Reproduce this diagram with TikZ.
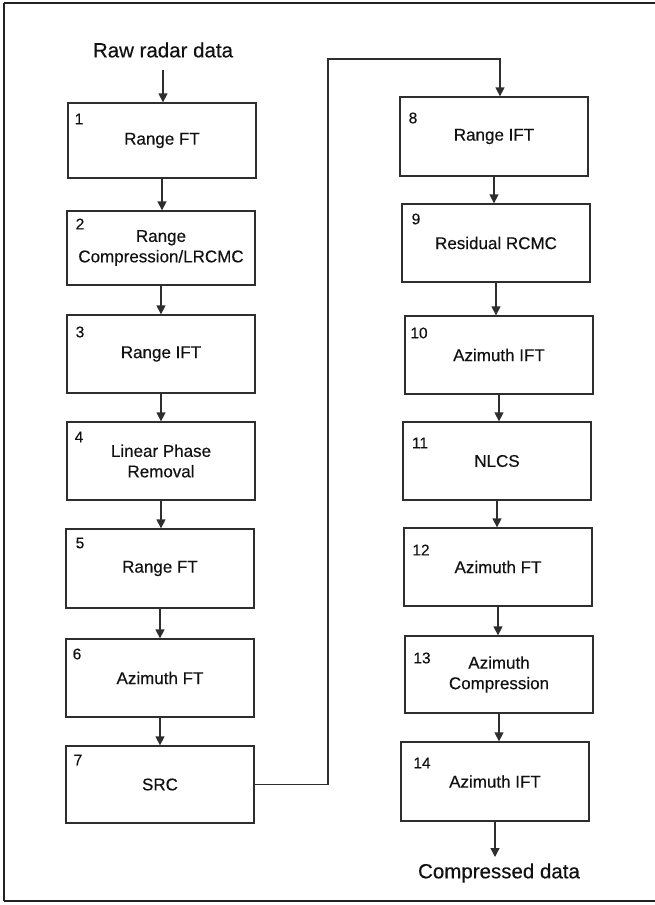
\documentclass[tikz,border=0pt]{standalone}
\usepackage{fontspec}
\setmainfont{Liberation Sans}[FakeBold=0.35]
\usetikzlibrary{arrows.meta,calc}
\definecolor{linegray}{HTML}{2E2E2E}
\definecolor{textblack}{HTML}{111111}
\definecolor{framecol}{HTML}{222222}

\begin{document}
\begin{tikzpicture}[x=1pt,y=-1pt,
  stepbox/.style={draw=linegray, line width=1.3pt, minimum width=188pt,
    inner sep=0pt, align=center, text=textblack,
    font=\fontsize{17}{20.5}\selectfont},
  num/.style={font=\fontsize{15.5}{18}\selectfont, text=textblack, inner sep=0pt},
  endtext/.style={font=\fontsize{20.5}{24}\selectfont, text=textblack, inner sep=0pt},
  flow/.style={draw=linegray, line width=1.3pt, -{Triangle[length=9pt,width=9pt]}}
]
\useasboundingbox (0,0) rectangle (655,905);

% frame: top, left and bottom rules
\draw[framecol, line width=2.6pt] (655,3) -- (4,3);
\draw[framecol, line width=1.1pt] (4,3) -- (4,901);
\draw[framecol, line width=2.6pt] (4,901) -- (655,901);

% left column
\node[stepbox, minimum height=75pt] (b1) at (162,140.5) {Range FT};
\node[stepbox, minimum height=74pt] (b2) at (161,248) {Range\\Compression/LRCMC};
\node[stepbox, minimum height=78pt] (b3) at (161,354) {Range IFT};
\node[stepbox, minimum height=78pt] (b4) at (161,461) {Linear Phase\\Removal};
\node[stepbox, minimum height=79pt] (b5) at (160,568.5) {Range FT};
\node[stepbox, minimum height=78pt] (b6) at (160,678) {Azimuth FT};
\node[stepbox, minimum height=77pt] (b7) at (160,784.5) {SRC};

% right column
\node[stepbox, minimum height=79pt] (b8) at (494,136.5) {Range IFT};
\node[stepbox, minimum height=78pt] (b9) at (496,243) {Residual RCMC};
\node[stepbox, minimum height=78pt] (b10) at (499,355) {Azimuth IFT};
\node[stepbox, minimum height=78pt] (b11) at (497,461) {NLCS};
\node[stepbox, minimum height=78pt] (b12) at (498,567) {Azimuth FT};
\node[stepbox, minimum height=77pt] (b13) at (499,674.5) {Azimuth\\Compression};
\node[stepbox, minimum height=79pt] (b14) at (495,781.5) {Azimuth IFT};

% step numbers
\node[num] (n1) at (79,119) {1};
\node[num] (n2) at (80,224) {2};
\node[num] (n3) at (80,332) {3};
\node[num] (n4) at (79,437) {4};
\node[num] (n5) at (80,543) {5};
\node[num] (n6) at (77,654) {6};
\node[num] (n7) at (78,760) {7};
\node[num] (n8) at (413,118) {8};
\node[num] (n9) at (416,219) {9};
\node[num] (n10) at (419,333) {10};
\node[num] (n11) at (420,443) {11};
\node[num] (n12) at (421,550) {12};
\node[num] (n13) at (422,658) {13};
\node[num] (n14) at (422,763) {14};

% input and output
\node[endtext] (raw) at (163,50) {Raw radar data};
\node[endtext] (out) at (499,873) {Compressed data};

% connectors
\draw[flow] (raw.south |- 0,70) -- (raw.south |- b1.north);
\foreach \a/\b in {b1/b2,b2/b3,b3/b4,b4/b5,b5/b6,b6/b7,
                   b8/b9,b9/b10,b10/b11,b11/b12,b12/b13,b13/b14}
  \draw[flow] (\a.south) -- (\a.south |- \b.north);
\coordinate (turn) at (500,59);
\draw[flow] (b7.east) -| (328,59) -- (turn) -- (turn |- b8.north);
\draw[flow] (b14.south) -- (b14.south |- 0,857);
\end{tikzpicture}
\end{document}
